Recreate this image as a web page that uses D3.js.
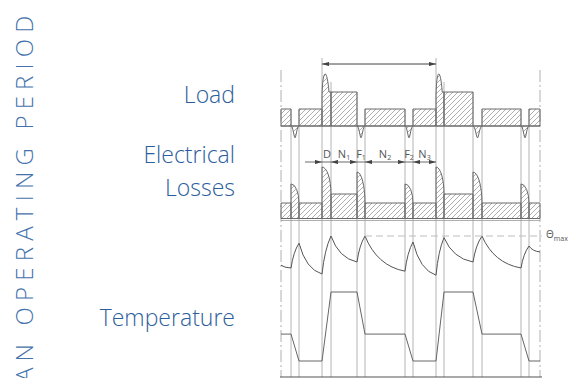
<!DOCTYPE html>
<html><head><meta charset="utf-8">
<script src="https://cdn.jsdelivr.net/npm/d3@7"></script>
<style>html,body{margin:0;padding:0;background:#fff;overflow:hidden}</style>
</head><body><svg id="c" width="568" height="378"></svg>
<script>
// ---- data ----
const phases     = ["N2","F2","N3","D","N1","F1","N2","F2","N3","D","N1","F1","N2","F2","N3"];
const phaseStart = [0, 10, 18, 41, 50, 76, 84, 124, 132, 155, 163, 192, 201, 240, 248];
const periodEnd  = 259;
const loadValues = [1, -0.7, 1, 3, 2, -0.7, 1, -0.7, 1, 3, 2, -0.7, 1, -0.7, 1];
const lossValues = [1, 2.23, 1, 3.32, 1.58, 3.0, 1, 2.23, 1, 3.32, 1.58, 3.0, 1, 2.23, 1];
// temperature and speed at every phase boundary (16 points)
const tempValues  = [27, 20, 82, 5, 100, 35, 100, 12, 85, 2, 96, 35, 100, 20, 75, 60];
const speedValues = [39, 39, 0, 0, 100, 100, 39, 39, 0, 0, 100, 100, 39, 39, 0, 0];
const thetaMax = 100;
const rowLabels = [["Load"], ["Electrical","Losses"], ["Temperature"]];
const sideTitle = "AN OPERATING PERIOD";

// ---- setup ----
const svg = d3.select("#c");
const defs = svg.append("defs");
defs.append("pattern").attr("id","hatch").attr("patternUnits","userSpaceOnUse")
  .attr("width",5).attr("height",5)
  .append("path").attr("d","M-1,1 l2,-2 M0,5 l5,-5 M4,6 l2,-2")
  .attr("stroke","#8c8c8c").attr("stroke-width",0.7);
defs.append("marker").attr("id","arr").attr("viewBox","0 0 10 6").attr("refX",10).attr("refY",3)
  .attr("markerWidth",7).attr("markerHeight",4.2).attr("markerUnits","userSpaceOnUse").attr("orient","auto")
  .append("path").attr("d","M0,0L10,3L0,6Z").attr("fill","#444");

const x = d3.scaleLinear().domain([0, periodEnd]).range([281, 540]);
const yLoad  = d3.scaleLinear().domain([0, 1]).range([126, 109]);
const yLoss  = d3.scaleLinear().domain([0, 1]).range([218.5, 203]);
const yTemp  = d3.scaleLinear().domain([0, 100]).range([276, 236]);
const ySpeed = d3.scaleLinear().domain([0, 100]).range([361, 292]);
const bounds = phaseStart.concat([periodEnd]);
const X0 = i => x(bounds[i]), X1 = i => x(bounds[i+1]);
const gray = "#6a6a6a";

// vertical phase boundary lines
const gv = svg.append("g");
for (let k = 1; k < phases.length; k++) {
  let top;
  if (phases[k] === "D") top = 58;
  else if (phases[k-1] === "D") top = yLoad(2.6);
  else top = yLoad(Math.max(loadValues[k-1], loadValues[k]));
  gv.append("line").attr("x1",x(bounds[k])).attr("x2",x(bounds[k]))
    .attr("y1",top).attr("y2",377).attr("stroke","#b4b4b4").attr("stroke-width",1);
}
// dash-dot outer lines
[0, periodEnd].forEach(t => gv.append("line").attr("x1",x(t)).attr("x2",x(t))
  .attr("y1",70).attr("y2",377).attr("stroke","#b0b0b0").attr("stroke-width",1)
  .attr("stroke-dasharray","12,3,2,3"));

// ---- Load ----
const gl = svg.append("g");
phases.forEach((p,i) => {
  const x0 = X0(i), x1 = X1(i), w = x1 - x0, v = loadValues[i], b = yLoad(0);
  let d;
  if (p === "D") {
    const nxt = loadValues[i+1];
    d = `M${x0},${b}V${yLoad(1.8)}C${x0+0.08*w},${yLoad(v+0.45)} ${x0+0.55*w},${yLoad(v+0.45)} ${x0+0.78*w},${yLoad(nxt)}H${x1}V${b}Z`;
  } else if (v < 0) {
    const m = (x0 + x1) / 2, yb = yLoad(v);
    d = `M${x0},${b}C${x0+0.25*w},${b} ${m-0.12*w},${yb} ${m},${yb}C${m+0.12*w},${yb} ${x1-0.25*w},${b} ${x1},${b}Z`;
  } else {
    d = `M${x0},${b}V${yLoad(v)}H${x1}V${b}Z`;
  }
  gl.append("path").attr("d",d).attr("fill","url(#hatch)").attr("stroke",gray).attr("stroke-width",1);
});
gl.append("line").attr("x1",x(0)).attr("x2",x(periodEnd)).attr("y1",yLoad(0)).attr("y2",yLoad(0))
  .attr("stroke",gray).attr("stroke-width",1.2);

// cycle dimension arrow
const cyc = phaseStart.map((t,i)=>phases[i]==="D"?t:null).filter(t=>t!==null);
gl.append("line").attr("x1",(x(cyc[0])+x(cyc[1]))/2).attr("x2",x(cyc[0])).attr("y1",64).attr("y2",64)
  .attr("stroke","#444").attr("marker-end","url(#arr)");
gl.append("line").attr("x1",(x(cyc[0])+x(cyc[1]))/2).attr("x2",x(cyc[1])).attr("y1",64).attr("y2",64)
  .attr("stroke","#444").attr("marker-end","url(#arr)");

// ---- Electrical losses ----
const ge = svg.append("g");
phases.forEach((p,i) => {
  const x0 = X0(i), x1 = X1(i), v = lossValues[i], b = yLoss(0);
  let d;
  if (p === "D" || p[0] === "F") {
    const nxt = lossValues[i+1];
    d = `M${x0},${b}V${yLoss(v)}A${x1-x0},${yLoss(nxt)-yLoss(v)} 0 0 1 ${x1},${yLoss(nxt)}V${b}Z`;
  } else {
    d = `M${x0},${b}V${yLoss(v)}H${x1}V${b}Z`;
  }
  ge.append("path").attr("d",d).attr("fill","url(#hatch)").attr("stroke",gray).attr("stroke-width",1);
});
ge.append("line").attr("x1",x(0)).attr("x2",x(periodEnd)).attr("y1",yLoss(0)).attr("y2",yLoss(0))
  .attr("stroke",gray).attr("stroke-width",1.2);
ge.append("line").attr("x1",x(0)).attr("x2",x(periodEnd)).attr("y1",yLoss(0)+2).attr("y2",yLoss(0)+2)
  .attr("stroke","#999").attr("stroke-width",0.8);

// phase dimension line with labels (first full cycle)
const c0 = phases.indexOf("D");
const dimY = 162;
ge.append("line").attr("x1",x(bounds[c0])-17).attr("x2",x(bounds[c0+6])).attr("y1",dimY).attr("y2",dimY)
  .attr("stroke","#444").attr("stroke-width",0.8);
for (let k = c0; k <= c0+6; k++) {
  const dir = ((k - c0) % 2 === 0) ? 1 : -1;   // alternate arrow directions
  ge.append("line").attr("x1",x(bounds[k]) - dir*7).attr("x2",x(bounds[k])).attr("y1",dimY).attr("y2",dimY)
    .attr("stroke","none").attr("marker-end","url(#arr)");
}
for (let k = c0; k < c0+6; k++) {
  const t = ge.append("text").attr("x",(X0(k)+X1(k))/2 + (phases[k]==="D"?0.5:0)).attr("y",158)
    .attr("text-anchor","middle").attr("font-family","Open Sans, sans-serif").attr("font-size",11)
    .attr("fill","#555");
  t.append("tspan").text(phases[k][0]);
  if (phases[k].length > 1) t.append("tspan").attr("font-size",7).attr("dy",2).text(phases[k].slice(1));
}

// ---- Temperature ----
const gt = svg.append("g");
let td = `M${x(bounds[0])},${yTemp(tempValues[0])}`;
for (let i = 0; i < phases.length; i++) {
  const x0 = X0(i), x1 = X1(i), w = x1 - x0, y0 = yTemp(tempValues[i]), y1 = yTemp(tempValues[i+1]);
  let cx, cy;
  if (y1 < y0) { cx = x0 + 0.3*w; cy = y1 + 0.35*(y0 - y1); }
  else { cx = x0 + 0.3*w; cy = y0 + 0.85*(y1 - y0); }
  td += `Q${cx},${cy} ${x1},${y1}`;
}
gt.append("path").attr("d",td).attr("fill","none").attr("stroke","#555").attr("stroke-width",1);

// theta max dashed line
const firstMaxIdx = tempValues.indexOf(thetaMax, 5);
gt.append("line").attr("x1",x(bounds[firstMaxIdx])).attr("x2",x(periodEnd)+2)
  .attr("y1",yTemp(thetaMax)).attr("y2",yTemp(thetaMax))
  .attr("stroke","#bdbdbd").attr("stroke-width",1.2).attr("stroke-dasharray","7,4");
const tm = gt.append("text").attr("x",546).attr("y",yTemp(thetaMax)+2)
  .attr("font-family","Open Sans, sans-serif").attr("font-size",10).attr("fill","#555");
tm.append("tspan").text("Θ");
tm.append("tspan").attr("font-size",7).attr("dy",3).text("max");

// speed-like trapezoid
const speedLine = d3.line().x((d,i)=>x(bounds[i])).y(d=>ySpeed(d));
gt.append("path").attr("d",speedLine(speedValues)).attr("fill","none").attr("stroke","#666").attr("stroke-width",1);

// bottom axis
gt.append("line").attr("x1",280).attr("x2",542).attr("y1",377).attr("y2",377)
  .attr("stroke","#555").attr("stroke-width",1.2);

// ---- labels ----
const labelFont = "Open Sans, sans-serif";
const lab = svg.append("g").attr("fill","#2c5e9c").attr("font-family",labelFont)
  .attr("font-weight",300).attr("font-size",23).attr("text-anchor","end");
const labPos = [[103], [163, 196], [326]];
rowLabels.forEach((lines, r) => lines.forEach((s, j) =>
  lab.append("text").attr("x",235).attr("y",labPos[r][j]).text(s)));

svg.append("text").attr("transform","translate(33,382) rotate(-90)")
  .attr("font-family",labelFont).attr("font-weight",300).attr("font-size",24)
  .attr("letter-spacing",6.2).attr("fill","#4472ab").text(sideTitle);
</script></body></html>
